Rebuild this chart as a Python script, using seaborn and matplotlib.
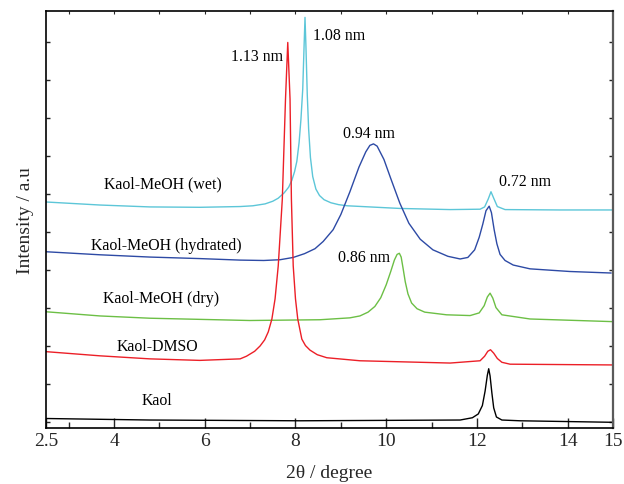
import numpy as np
import pandas as pd
import matplotlib
matplotlib.use("Agg")
import matplotlib.pyplot as plt
import seaborn as sns

# ---- data (2theta in degree, intensity in arbitrary stacked units) ----
wet_x = [2.5, 3.69, 4.79, 5.89, 6.78, 7.06, 7.33, 7.50, 7.62, 7.75, 7.85, 7.92, 7.98, 8.03, 8.08, 8.12,
         8.16, 8.19, 8.21, 8.23, 8.26, 8.29, 8.33, 8.38, 8.45, 8.53, 8.63, 8.78, 8.95, 9.14, 10.30,
         11.41, 12.07, 12.17, 12.25, 12.31, 12.37, 12.45, 12.62, 13.83, 15.0]
wet_y = [5.78, 5.70, 5.65, 5.64, 5.66, 5.68, 5.73, 5.80, 5.88, 6.02, 6.17, 6.35, 6.58, 6.85, 7.35, 7.95,
         8.75, 9.90, 10.64, 9.90, 8.60, 7.70, 6.95, 6.45, 6.12, 5.95, 5.84, 5.76, 5.71, 5.68, 5.61,
         5.58, 5.59, 5.65, 5.86, 6.05, 5.88, 5.66, 5.58, 5.57, 5.57]

hyd_x = [2.5, 3.69, 4.79, 5.89, 6.78, 7.30, 7.66, 7.95, 8.20, 8.43, 8.61, 8.83, 9.00, 9.20, 9.40,
         9.55, 9.64, 9.72, 9.80, 9.95, 10.10, 10.30, 10.50, 10.75, 11.03, 11.36, 11.63, 11.80,
         11.95, 12.05, 12.13, 12.20, 12.27, 12.32, 12.38, 12.44, 12.51, 12.62, 12.80, 13.17, 14.05, 14.96]
hyd_y = [4.47, 4.39, 4.33, 4.29, 4.25, 4.24, 4.26, 4.32, 4.42, 4.55, 4.74, 5.05, 5.45, 6.05, 6.70,
         7.10, 7.27, 7.31, 7.25, 6.90, 6.40, 5.75, 5.22, 4.80, 4.52, 4.35, 4.28, 4.32,
         4.52, 4.85, 5.20, 5.55, 5.67, 5.50, 5.05, 4.68, 4.40, 4.24, 4.12, 4.02, 3.95, 3.91]

dry_x = [2.5, 3.69, 4.79, 6.99, 8.54, 9.20, 9.42, 9.60, 9.75, 9.88, 10.00, 10.10, 10.18, 10.24, 10.29,
         10.33, 10.37, 10.42, 10.48, 10.56, 10.68, 10.85, 11.33, 11.85, 12.05, 12.16, 12.23, 12.29,
         12.35, 12.42, 12.55, 13.17, 15.0]
dry_y = [2.89, 2.78, 2.72, 2.66, 2.68, 2.73, 2.78, 2.88, 3.03, 3.26, 3.60, 3.95, 4.25, 4.40, 4.43,
         4.33, 4.05, 3.68, 3.36, 3.12, 2.97, 2.88, 2.81, 2.79, 2.86, 3.05, 3.28, 3.38,
         3.25, 3.00, 2.81, 2.70, 2.63]

dmso_x = [2.5, 3.69, 4.79, 5.89, 6.78, 6.92, 7.10, 7.22, 7.32, 7.40, 7.48, 7.55, 7.62, 7.71, 7.78,
          7.83, 7.88, 7.91, 7.95, 8.00, 8.05, 8.14, 8.22, 8.32, 8.48, 8.69, 9.42, 11.41, 12.07,
          12.17, 12.24, 12.30, 12.37, 12.45, 12.55, 12.73, 15.0]
dmso_y = [1.84, 1.73, 1.65, 1.61, 1.65, 1.72, 1.85, 1.99, 2.15, 2.36, 2.70, 3.23, 4.10, 5.86, 8.49,
          9.98, 8.49, 5.86, 4.10, 3.23, 2.70, 2.17, 2.00, 1.88, 1.76, 1.68, 1.60, 1.54, 1.60,
          1.72, 1.85, 1.89, 1.80, 1.66, 1.56, 1.51, 1.49]

kaol_x = [2.5, 4.79, 8.10, 11.63, 11.90, 12.03, 12.12, 12.18, 12.23, 12.26, 12.29, 12.33, 12.37,
          12.43, 12.55, 12.95, 15.0]
kaol_y = [0.08, 0.04, 0.02, 0.04, 0.10, 0.20, 0.42, 0.80, 1.22, 1.39, 1.20, 0.75, 0.36,
          0.12, 0.04, 0.02, -0.02]

series_names = ["Kaol-MeOH (wet)", "Kaol-MeOH (hydrated)", "Kaol-MeOH (dry)", "Kaol-DMSO", "Kaol"]
series_colors = ["#5cc6d8", "#2d4aa5", "#6cbf45", "#ec1f27", "#000000"]

label_x = [5.08, 5.16, 5.03, 4.95, 4.95]
label_y = [6.26, 4.65, 3.26, 2.00, 0.57]

peak_labels = ["1.13 nm", "1.08 nm", "0.94 nm", "0.86 nm", "0.72 nm"]
peak_label_x = [7.15, 8.96, 9.61, 9.50, 13.07]
peak_label_y = [9.62, 10.18, 7.59, 4.33, 6.33]

xtick_major = [2.5, 4, 6, 8, 10, 12, 14, 15]
xtick_minor = [3, 5, 7, 9, 11, 13]
xtick_top = [3, 4, 5, 6, 7, 8, 9, 10, 11, 12, 13, 14]
ytick_pos = [0, 1, 2, 3, 4, 5, 6, 7, 8, 9, 10]

# ---- build long table ----
frames = []
for name, xs, ys in zip(series_names,
                        [wet_x, hyd_x, dry_x, dmso_x, kaol_x],
                        [wet_y, hyd_y, dry_y, dmso_y, kaol_y]):
    frames.append(pd.DataFrame({"two_theta": xs, "intensity": ys, "sample": name}))
df = pd.concat(frames, ignore_index=True)

sns.set_theme(style="white")
plt.rcParams["font.family"] = ["Liberation Serif", "DejaVu Serif"]

fig = plt.figure(figsize=(6.24, 4.85), dpi=100)
ax = fig.add_axes([46 / 624, 1 - 429 / 485, (613 - 46) / 624, (429 - 12.3) / 485])

sns.lineplot(data=df, x="two_theta", y="intensity", hue="sample", hue_order=series_names,
             palette=dict(zip(series_names, series_colors)), sort=False, estimator=None,
             linewidth=1.0, legend=False, ax=ax)

ax.set_xlim(2.5, 15)
ax.set_ylim(-0.17, 10.8)

for n, lx, ly in zip(series_names, label_x, label_y):
    ax.text(lx, ly, n, ha="center", va="center", fontsize=11.4, color="black")
for t, lx, ly in zip(peak_labels, peak_label_x, peak_label_y):
    ax.text(lx, ly, t, ha="center", va="center", fontsize=11.4, color="black")

ax.set_xticks(xtick_major)
ax.set_xticklabels([("%g" % v) for v in xtick_major], fontsize=14)
ax.set_xticks(xtick_minor, minor=True)
ax.set_yticks(ytick_pos)
ax.set_yticklabels([])
ax.tick_params(axis="x", which="major", direction="in", length=7, width=1.0, pad=3, bottom=True, top=False)
ax.tick_params(axis="x", which="minor", direction="in", length=4, width=1.0, bottom=True, top=False)
ax.tick_params(axis="y", which="major", direction="in", length=3, width=1.0, left=True, right=True)

sec = ax.secondary_xaxis("top")
sec.set_xticks(xtick_top)
sec.set_xticklabels([])
sec.tick_params(direction="in", length=2.5, width=0.8)
sec.spines["top"].set_visible(False)

for s in ["left", "bottom", "top"]:
    ax.spines[s].set_color("black")
    ax.spines[s].set_linewidth(1.2)
ax.spines["right"].set_color("#5a5a5a")
ax.spines["right"].set_linewidth(1.6)

ax.set_xlabel("2θ / degree", fontsize=14, labelpad=11)
ax.set_ylabel("Intensity / a.u", fontsize=14, labelpad=5)

fig.savefig("out.png", dpi=100)
